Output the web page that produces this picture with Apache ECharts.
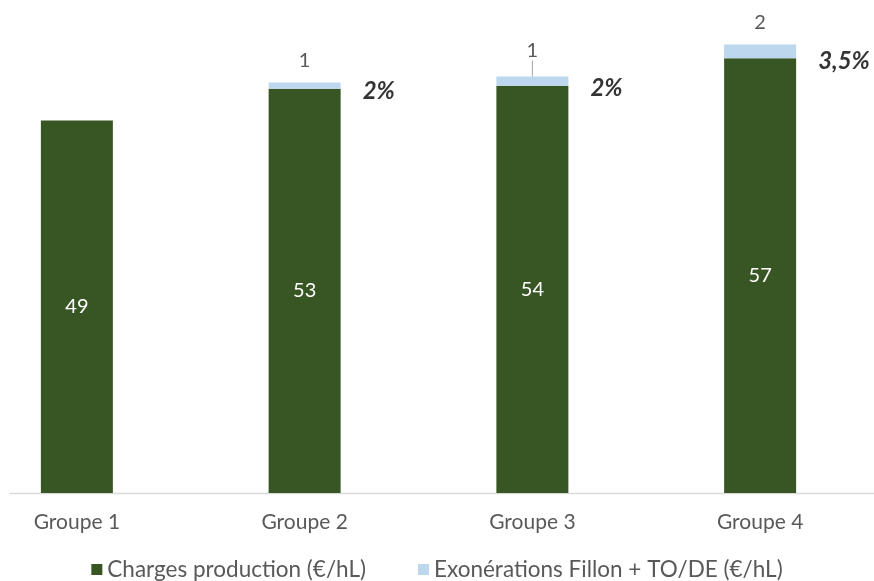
<!DOCTYPE html>
<html><head><meta charset="utf-8">
<script src="https://cdn.jsdelivr.net/npm/echarts@6/dist/echarts.min.js"></script>
<style>html,body{margin:0;padding:0;background:#fff}#c{width:874px;height:581px}</style>
</head><body><div id="c"></div>
<script>
const categories = ['Groupe 1', 'Groupe 2', 'Groupe 3', 'Groupe 4'];
const charges = [49, 53.2, 53.6, 57.2];
const exonerations = [null, 0.8, 1.2, 1.8];
const shares = ['', '2%', '2%', '3,5%'];
const seriesNames = ['Charges production (€/hL)', 'Exonérations Fillon + TO/DE (€/hL)'];

const FONT = 'Lato';
const chart = echarts.init(document.getElementById('c'));
chart.setOption({
  animation: false,
  textStyle: { fontFamily: FONT },
  grid: [
    { left: -37, right: 0, top: 37, bottom: 88, outerBoundsMode: 'none' },
    { left: 10, right: 0, top: 37, bottom: 88, outerBoundsMode: 'none' }
  ],
  xAxis: [
    { type: 'category', data: categories, gridIndex: 0,
      axisLine: { show: false }, axisTick: { show: false },
      axisLabel: { color: '#595959', fontSize: 21, margin: 19, fontFamily: FONT } },
    { type: 'category', data: categories, gridIndex: 1,
      axisLine: { show: true, lineStyle: { color: '#D9D9D9', width: 1.3 } },
      axisTick: { show: false }, axisLabel: { show: false } }
  ],
  yAxis: [
    { type: 'value', min: 0, max: 60, show: false, gridIndex: 0 },
    { type: 'value', min: 0, max: 60, show: false, gridIndex: 1 }
  ],
  legend: {
    top: 553, left: 'center', itemWidth: 11, itemHeight: 11, itemGap: 52,
    icon: 'rect',
    textStyle: { color: '#595959', fontSize: 22.5, fontFamily: FONT },
    data: seriesNames
  },
  series: [
    { name: seriesNames[0], type: 'bar', stack: 's', barWidth: 72,
      data: charges,
      itemStyle: { color: '#375623' },
      label: { show: true, position: 'inside', color: '#FFFFFF', fontSize: 20, fontFamily: FONT,
        formatter: p => Math.round(p.value) } },
    { name: seriesNames[1], type: 'bar', stack: 's', barWidth: 72,
      data: exonerations.map((v, i) => (i === 2 ? { value: v, labelLine: { show: true } } : { value: v, labelLine: { show: false } })),
      itemStyle: { color: '#BDD7EE' },
      label: { show: true, position: 'top', distance: 12, color: '#595959', fontSize: 20, fontFamily: FONT,
        formatter: p => Math.round(p.value) },
      labelLine: { show: false, lineStyle: { color: '#A6A6A6', width: 1 } },
      labelLayout: p => (p.dataIndex === 2 ? { dy: -4 } : {}) },
    { name: 'share', type: 'scatter', symbolSize: 0, silent: true,
      data: charges,
      label: { show: true, position: 'right', distance: 0, offset: [58, 3],
        color: '#000000', fontSize: 24, fontWeight: 'bold', fontStyle: 'italic', fontFamily: FONT,
        formatter: p => shares[p.dataIndex] } }
  ]
});
</script></body></html>
